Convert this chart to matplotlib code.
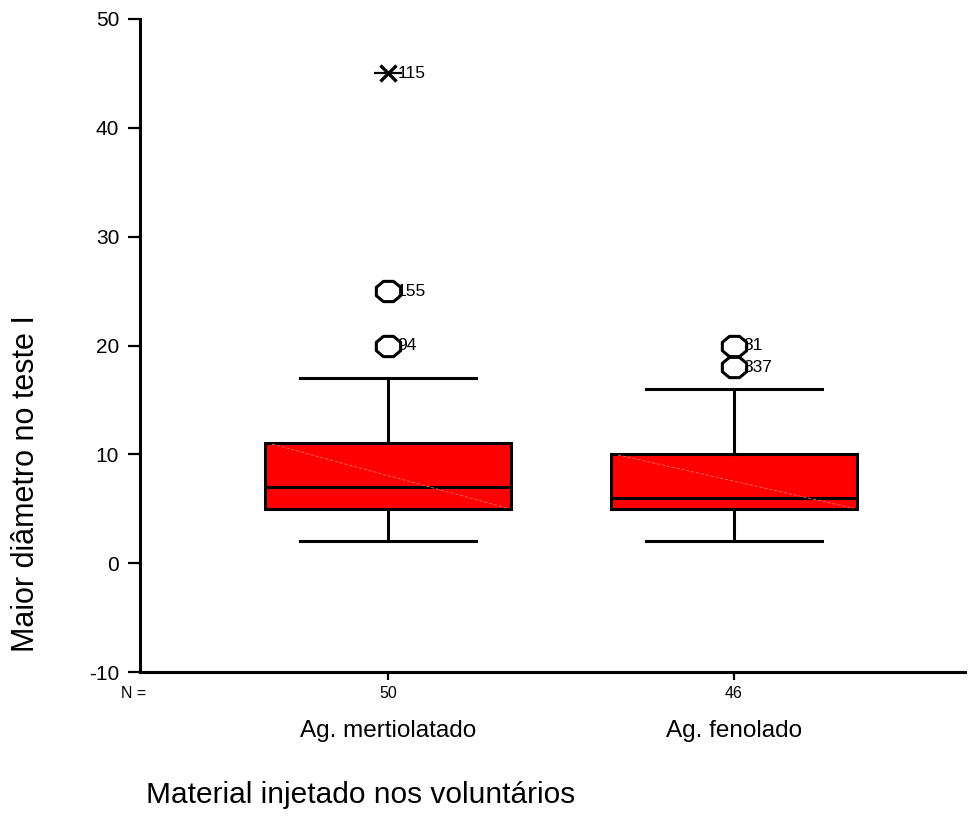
import numpy as np
import matplotlib
matplotlib.use("Agg")
import matplotlib.pyplot as plt
from matplotlib.path import Path

plt.rcParams['font.family'] = ['Liberation Sans', 'DejaVu Sans']

# ---- data ----
categories = ['Ag. mertiolatado', 'Ag. fenolado']
n_counts = [50, 46]
q1 = [5, 5]
medians = [7, 6]
q3 = [11, 10]
whislo = [2, 2]
whishi = [17, 16]
outliers = [[20, 25], [20, 18]]
outlier_ids = [['94', '155'], ['31', '337']]
extremes = [[45], []]
extreme_ids = [['115'], []]
y_ticks = [-10, 0, 10, 20, 30, 40, 50]
y_label = 'Maior diâmetro no teste I'
x_label = 'Material injetado nos voluntários'

W, H = 971, 823
fig = plt.figure(figsize=(W / 100, H / 100), dpi=100)
ax = fig.add_axes([140 / W, 1 - 672 / H, (965 - 140) / W, (672 - 19) / H])

positions = np.arange(1, len(categories) + 1)
stats = []
for i in range(len(categories)):
    stats.append(dict(med=medians[i], q1=q1[i], q3=q3[i],
                      whislo=whislo[i], whishi=whishi[i], fliers=[]))

box_w = 0.711
cap_w = 0.509
lw = 2.2
ax.bxp(stats, positions=positions, widths=box_w, capwidths=cap_w,
       patch_artist=True, showfliers=False,
       boxprops=dict(facecolor='#ff0000', edgecolor='black', linewidth=lw),
       medianprops=dict(color='black', linewidth=lw),
       whiskerprops=dict(color='black', linewidth=lw),
       capprops=dict(color='black', linewidth=lw))

# faint diagonal rendering line across each box
for i, p in enumerate(positions):
    ax.plot([p - box_w / 2 + 0.02, p + box_w / 2 - 0.01], [q3[i] - 0.05, q1[i] + 0.05],
            color='#ff7070', lw=0.6, ls=(0, (4, 2)), zorder=3)

# octagon marker (slightly wider than tall)
ang = np.deg2rad(np.arange(22.5, 360, 45))
verts = np.column_stack([np.cos(ang) * 1.2, np.sin(ang)])
verts = np.vstack([verts, verts[:1]])
octa = Path(verts, closed=True)

for i, p in enumerate(positions):
    if outliers[i]:
        ax.plot([p] * len(outliers[i]), outliers[i], linestyle='none', marker=octa,
                ms=17.5, mfc='white', mec='black', mew=2.2, zorder=4)
        for v, lab in zip(outliers[i], outlier_ids[i]):
            ax.annotate(lab, (p, v), xytext=(9, 0), textcoords='offset pixels',
                        ha='left', va='center', fontsize=12.5, zorder=5)
    if extremes[i]:
        ax.plot([p] * len(extremes[i]), extremes[i], linestyle='none', marker='_',
                ms=20, mec='black', mew=1.6, zorder=4)
        ax.plot([p] * len(extremes[i]), extremes[i], linestyle='none', marker='x',
                ms=12, mec='black', mew=2.4, zorder=4)
        for v, lab in zip(extremes[i], extreme_ids[i]):
            ax.annotate(lab, (p, v), xytext=(10, 0), textcoords='offset pixels',
                        ha='left', va='center', fontsize=12.5, zorder=5)

ax.set_xlim(0.283, 2.668)
ax.set_ylim(-10, 50)
ax.set_yticks(y_ticks)
ax.set_yticklabels([str(t) for t in y_ticks], fontsize=15)
ax.set_xticks(positions)
ax.set_xticklabels([])
ax.tick_params(axis='y', direction='out', length=9, width=1.6, pad=6)
ax.tick_params(axis='x', direction='out', length=6, width=1.6)
for s in ['top', 'right']:
    ax.spines[s].set_visible(False)
for s in ['left', 'bottom']:
    ax.spines[s].set_linewidth(2.2)

# N row and category labels
fig.text(133.5 / W, 1 - 693 / H, 'N =', ha='center', va='center', fontsize=11.5)
for p, n, c in zip(positions, n_counts, categories):
    xf = (ax.transData.transform((p, 0))[0]) / W
    fig.text(xf, 1 - 693 / H, str(n), ha='center', va='center', fontsize=11.5)
    fig.text(xf, 1 - 731 / H, c, ha='center', va='center', fontsize=17.5)

fig.text(361 / W, 1 - 795 / H, x_label, ha='center', va='center', fontsize=21.5)
fig.text(26 / W, 1 - 484 / H, y_label, ha='center', va='center', rotation=90, fontsize=22)

fig.savefig('out.png', dpi=100)
